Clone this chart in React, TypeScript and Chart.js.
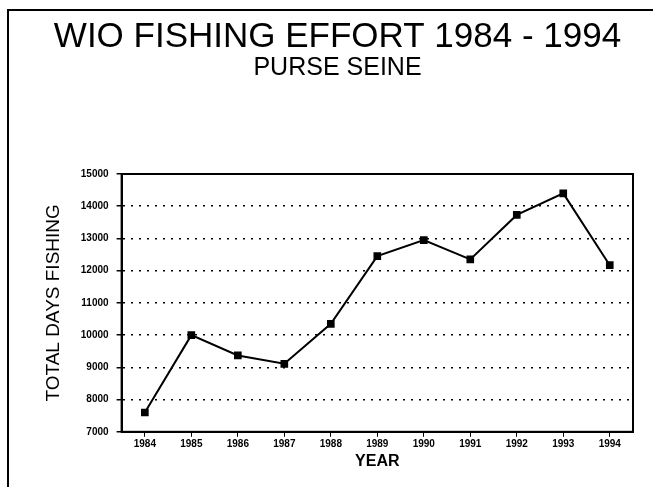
import React, { useEffect, useRef } from "react";
import { Chart, registerables } from "chart.js";

Chart.register(...registerables);

const years = ["1984", "1985", "1986", "1987", "1988", "1989", "1990", "1991", "1992", "1993", "1994"];
const daysFishing = [7600, 10000, 9370, 9110, 10350, 12450, 12950, 12350, 13730, 14400, 12170];
const yMin = 7000;
const yMax = 15000;
const yStep = 1000;

const frame = {
  id: "frame",
  afterDraw(chart: any) {
    const { ctx, chartArea } = chart;
    ctx.save();
    ctx.strokeStyle = "#000";
    ctx.lineWidth = 2;
    ctx.setLineDash([]);
    ctx.strokeRect(chartArea.left, chartArea.top, chartArea.right - chartArea.left, chartArea.bottom - chartArea.top);
    ctx.restore();
  },
};

export default function App() {
  const ref = useRef<HTMLCanvasElement>(null);
  useEffect(() => {
    document.body.style.margin = "0";
    const chart = new Chart(ref.current!, {
      type: "line",
      data: {
        labels: years,
        datasets: [
          {
            data: daysFishing,
            borderColor: "#000",
            backgroundColor: "#000",
            borderWidth: 2,
            pointStyle: "rect",
            pointRadius: 4,
            tension: 0,
          },
        ],
      },
      options: {
        animation: false,
        responsive: false,
        devicePixelRatio: 1,
        layout: { padding: { left: 42, right: 20, bottom: 16 } },
        plugins: {
          legend: { display: false },
          tooltip: { enabled: false },
          title: {
            display: true,
            text: "WIO FISHING EFFORT 1984 - 1994",
            color: "#000",
            font: { family: "Arial, 'Liberation Sans'", size: 35, weight: "normal", lineHeight: 1 },
            padding: { top: 20, bottom: 0 },
          },
          subtitle: {
            display: true,
            text: "PURSE SEINE",
            color: "#000",
            font: { family: "Arial, 'Liberation Sans'", size: 25, weight: "normal", lineHeight: 1 },
            padding: { top: 1, bottom: 93 },
          },
        },
        scales: {
          x: {
            offset: true,
            grid: {
              drawOnChartArea: false,
              drawTicks: true,
              tickLength: 5,
              color: "#000",
              tickColor: "#000",
            },
            border: { color: "#000", width: 2 },
            ticks: {
              color: "#000",
              font: { family: "Arial, 'Liberation Sans'", size: 10, weight: "bold" },
              maxRotation: 0,
              autoSkip: false,
              padding: 1,
            },
            title: {
              display: true,
              text: "YEAR",
              color: "#000",
              font: { family: "Arial, 'Liberation Sans'", size: 16, weight: "bold" },
              padding: { top: 1, bottom: 0 },
            },
          },
          y: {
            min: yMin,
            max: yMax,
            ticks: {
              stepSize: yStep,
              color: "#000",
              font: { family: "Arial, 'Liberation Sans'", size: 10, weight: "bold" },
              padding: 8,
              callback: (v: any) => String(v),
            },
            grid: {
              color: "#000",
              lineWidth: 1.5,
              drawTicks: true,
              tickLength: 5,
              tickColor: "#000",
              tickBorderDash: [],
            },
            border: { color: "#000", width: 2, dash: [2, 6] },
            title: {
              display: true,
              text: "TOTAL DAYS FISHING",
              color: "#000",
              font: { family: "Arial, 'Liberation Sans'", size: 19, weight: "normal" },
              padding: { top: 0, bottom: 8 },
            },
          },
        },
      },
      plugins: [frame],
    });
    return () => chart.destroy();
  }, []);
  return (
    <div style={{ position: "relative", width: 653, height: 487, background: "#fff" }}>
      <canvas ref={ref} width={653} height={487} />
      <div
        style={{
          position: "absolute",
          left: 7,
          top: 9,
          right: 0,
          bottom: 0,
          borderLeft: "2px solid #000",
          borderTop: "2px solid #000",
          pointerEvents: "none",
        }}
      />
    </div>
  );
}
